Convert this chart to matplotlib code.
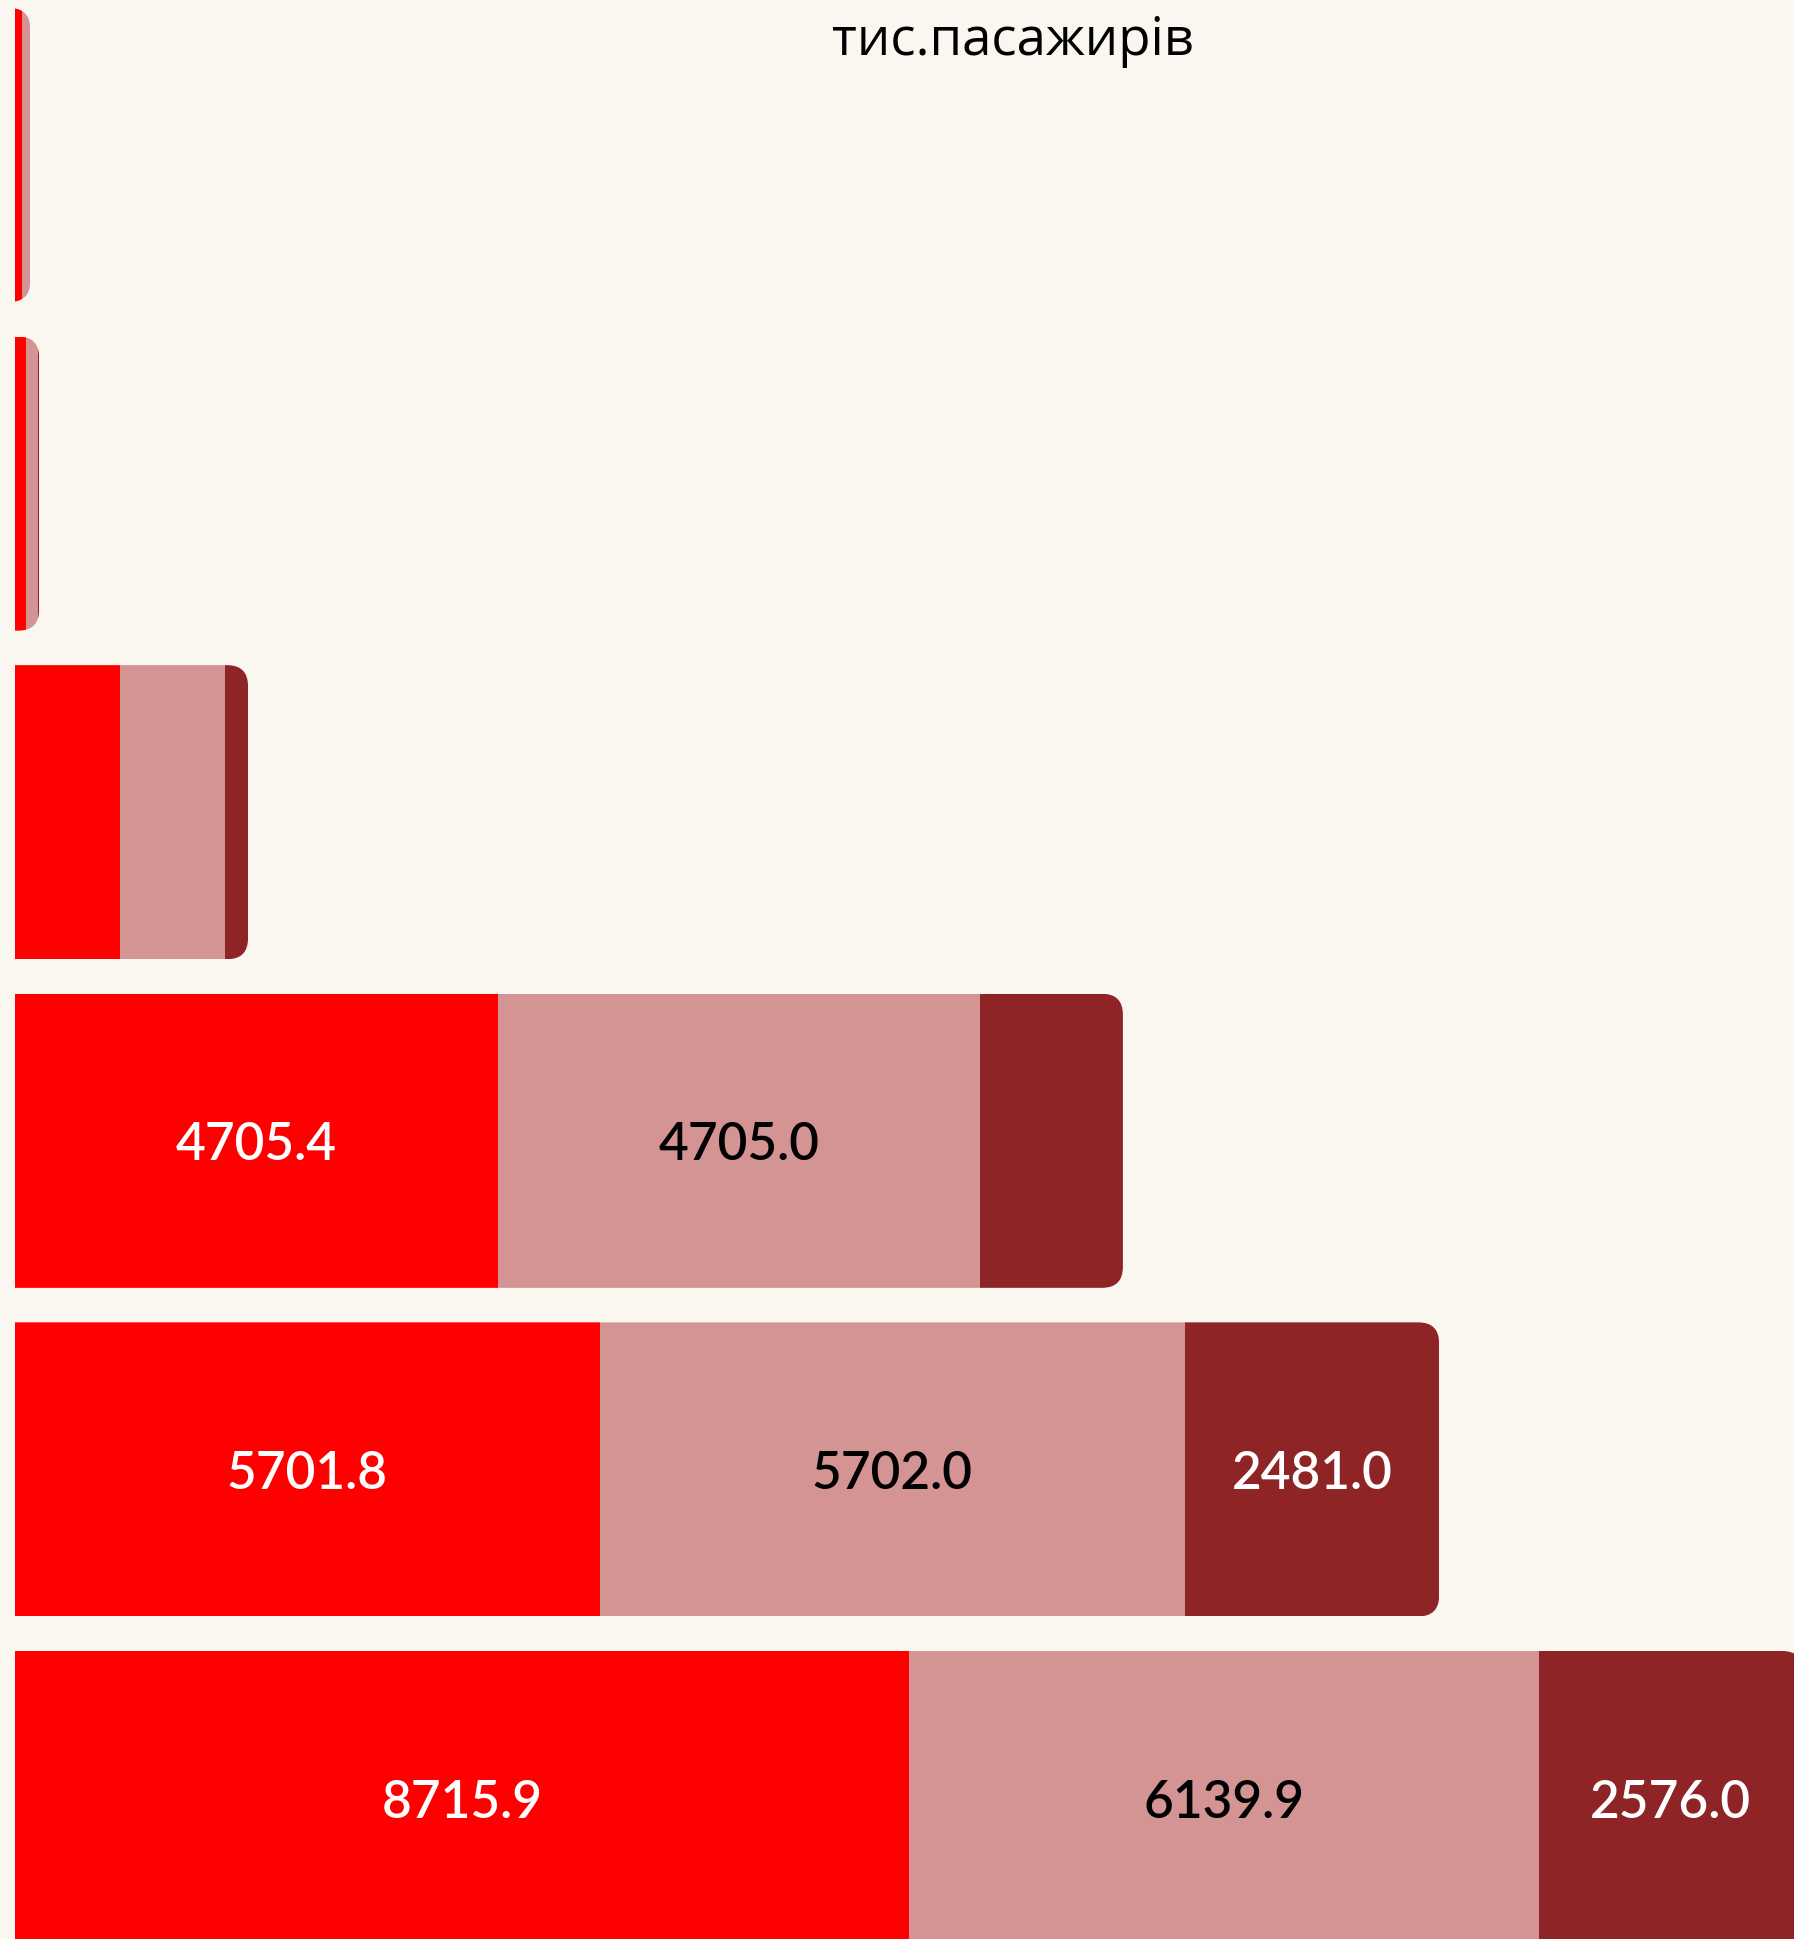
import matplotlib.pyplot as plt
from matplotlib.patches import FancyBboxPatch

# rows from top to bottom
rows = ["1", "2", "3", "4", "5", "6"]
series_a = [68, 107, 1024, 4705.4, 5701.8, 8715.9]
series_b = [78, 117, 1024, 4705.0, 5702.0, 6139.9]
series_c = [3, 12, 224, 1391, 2481.0, 2576.0]
title_text = "тис.пасажирів"

colors = ["#ff0000", "#d49494", "#8e2426"]
text_colors = ["white", "black", "white"]
bg = "#faf7f0"

W, H, DPI = 1794, 1939, 100
fig = plt.figure(figsize=(W / DPI, H / DPI), dpi=DPI, facecolor=bg)

left_px = 15
ax = fig.add_axes([left_px / W, 0, 1 - left_px / W, 1])
ax.set_facecolor(bg)
px_per_x = 0.10257
ax.set_xlim(0, (W - left_px) / px_per_x)
period = 328.6
top_center = 155.0
ax.set_ylim((H - top_center) / period, -top_center / period)
ax.axis("off")

px_per_y = period
radius_px = 21
bar_h = 0.895

for i, row in enumerate(rows):
    vals = [series_a[i], series_b[i], series_c[i]]
    total = sum(vals)
    # rounded right end, left corners pushed out of view
    clip = FancyBboxPatch((-5000, i - bar_h / 2), total + 5000, bar_h,
                          boxstyle="round,pad=0,rounding_size=%f" % (radius_px / px_per_x),
                          mutation_aspect=px_per_x / px_per_y,
                          transform=ax.transData, facecolor="none", edgecolor="none")
    ax.add_patch(clip)
    start = 0
    for j, v in enumerate(vals):
        bars = ax.barh(i, v, left=start, height=bar_h, color=colors[j], linewidth=0)
        for b in bars:
            b.set_clip_path(clip)
        if v > 2000:
            ax.annotate("%.1f" % v, (start + v / 2, i), xytext=(0, -3.6),
                        textcoords="offset points", ha="center", va="center",
                        color=text_colors[j], fontsize=37, family="Lato",
                        fontweight="semibold")
        start += v

fig.text(1013 / W, 1 - 55 / H, title_text, ha="center", va="baseline",
         fontsize=38, family=["Open Sans", "DejaVu Sans"], color="black")

fig.savefig("out.png", dpi=DPI, facecolor=bg)
